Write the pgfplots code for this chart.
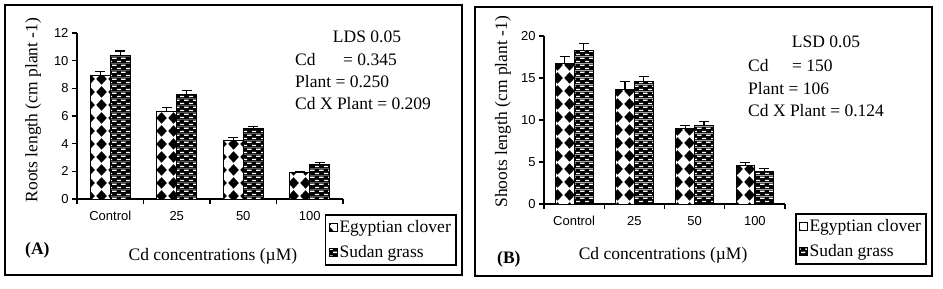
\documentclass[border=0pt]{standalone}
\usepackage{fontspec}
\setmainfont{Liberation Serif}
\newfontfamily\arialfont{Liberation Sans}
\usepackage{pgfplots}
\pgfplotsset{compat=1.18}
\usetikzlibrary{patterns}

\pgfdeclarepatterninherentlycolored{ecdiam}{\pgfqpoint{0bp}{0bp}}{\pgfqpoint{12bp}{12.5bp}}{\pgfqpoint{12bp}{12.5bp}}{%
 \pgfsetfillcolor{white}%
 \pgfpathrectangle{\pgfqpoint{0bp}{0bp}}{\pgfqpoint{12bp}{12.5bp}}%
 \pgfusepath{fill}%
 \pgfsetfillcolor{black}%
 \pgfpathmoveto{\pgfqpoint{0.3bp}{6.25bp}}%
 \pgfpathlineto{\pgfqpoint{6bp}{0.3bp}}%
 \pgfpathlineto{\pgfqpoint{11.7bp}{6.25bp}}%
 \pgfpathlineto{\pgfqpoint{6bp}{12.2bp}}%
 \pgfpathclose
 \pgfusepath{fill}%
}
\pgfdeclarepatterninherentlycolored{sgbrick}{\pgfqpoint{0bp}{0bp}}{\pgfqpoint{9bp}{7.2bp}}{\pgfqpoint{9bp}{7.2bp}}{%
 \pgfsetfillcolor{black}%
 \pgfpathrectangle{\pgfqpoint{0bp}{0bp}}{\pgfqpoint{9bp}{7.2bp}}%
 \pgfusepath{fill}%
 \pgfsetfillcolor{white}%
 \pgfpathrectangle{\pgfqpoint{0bp}{0.9bp}}{\pgfqpoint{4.5bp}{1.5bp}}%
 \pgfpathrectangle{\pgfqpoint{4.5bp}{4.5bp}}{\pgfqpoint{4.5bp}{1.5bp}}%
 \pgfusepath{fill}%
}

\newcommand\fs{\fontsize{17.5bp}{20bp}\selectfont}
\newcommand\tfs{\arialfont\fontsize{13bp}{13bp}\selectfont}

\pgfplotsset{
 panel/.style={
  anchor=south west, scale only axis,
  xmin=-0.5, xmax=3.5, ymin=0,
  axis lines*=left,
  axis line style={line width=1.2bp, -},
  ybar, bar width=0.3,
  xtick={0,1,2,3}, xticklabels={Control,25,50,100},
  minor xtick={-0.5,0.5,1.5,2.5,3.5},
  tick align=outside, major tick length=5bp, minor tick length=5bp,
  tick style={line width=1.2bp, black},
  major x tick style={draw=none},
  ticklabel style={font=\tfs},
  /pgf/number format/assume math mode=true,
  xticklabel style={yshift=-4bp},
  label style={font=\fs},
  legend style={draw=black, line width=1.5bp, font=\fs, anchor=north west,
    inner xsep=3bp, inner ysep=4bp, row sep=7bp, cells={anchor=west}},
  legend cell align=left,
 },
 errs/.style={
   error bars/y dir=plus, error bars/y explicit,
   error bars/error bar style={line width=1.2bp, black, solid},
   error bars/error mark options={rotate=90, mark size=5bp, line width=1.2bp, black, solid}},
 ecbar/.style={draw=black, line width=0.8bp, pattern=ecdiam, bar shift=-0.15,
   legend image code/.code={\draw[line width=0.8bp, pattern=ecdiam] (0bp,-4bp) rectangle (8bp,4bp);},
   errs},
 sgbar/.style={draw=black, line width=0.8bp, pattern=sgbrick, bar shift=0.15,
   legend image code/.code={\draw[line width=0.8bp, pattern=sgbrick] (0bp,-4bp) rectangle (8bp,4bp);},
   errs},
}

\begin{document}
\begin{tikzpicture}
\useasboundingbox (0,0) rectangle (943bp,289bp);
\fill[white] (0,0) rectangle (943bp,289bp);
\draw[line width=2bp] (5bp,14bp) rectangle (462bp,284bp);
\draw[line width=2bp] (475bp,13bp) rectangle (932bp,282bp);

% Panel A
\begin{axis}[panel,
 at={(77bp,90bp)}, width=266bp, height=166bp,
 ymax=12, ytick={0,2,...,12},
 xlabel={Cd concentrations (µM)},
 xlabel style={at={(axis description cs:0.511,-0.343)}, anchor=center},
 ylabel={Roots length (cm plant -1)},
 ylabel style={at={(axis description cs:-0.165,0.536)}, anchor=center},
 legend style={at={(axis description cs:0.9323,-0.0904)}},
]
\addplot[ecbar]
 coordinates {(0,8.9) +- (0,0.3) (1,6.3) +- (0,0.3) (2,4.25) +- (0,0.2) (3,1.9) +- (0,0.05)};
\addlegendentry{Egyptian clover}
\addplot[sgbar]
 coordinates {(0,10.35) +- (0,0.35) (1,7.55) +- (0,0.3) (2,5.1) +- (0,0.15) (3,2.5) +- (0,0.12)};
\addlegendentry{Sudan grass}
\end{axis}

% Panel B
\begin{axis}[panel,
 at={(544bp,85bp)}, width=241bp, height=168bp,
 ymax=20, ytick={0,5,...,20}, bar width=0.31,
 xlabel={Cd concentrations (µM)},
 xlabel style={at={(axis description cs:0.494,-0.304)}, anchor=center},
 ylabel={Shoots length (cm plant -1)},
 ylabel style={at={(axis description cs:-0.17,0.548)}, anchor=center},
 legend style={at={(axis description cs:1.0415,-0.0536)}},
]
\addplot[ecbar, bar shift=-0.157]
 coordinates {(0,16.75) +- (0,0.78) (1,13.65) +- (0,0.9) (2,9.0) +- (0,0.3) (3,4.6) +- (0,0.35)};
\addlegendentry{Egyptian clover}
\addplot[sgbar, bar shift=0.157]
 coordinates {(0,18.3) +- (0,0.8) (1,14.6) +- (0,0.6) (2,9.3) +- (0,0.5) (3,3.85) +- (0,0.4)};
\addlegendentry{Sudan grass}
\end{axis}

% LSD annotations
\begin{scope}[every node/.style={font=\fs, inner sep=0pt}]
\node[anchor=base] at (367bp,246bp) {LDS 0.05};
\node[anchor=base west] at (295bp,223bp) {Cd};
\node[anchor=base west] at (343bp,223bp) {= 0.345};
\node[anchor=base west] at (295bp,201bp) {Plant = 0.250};
\node[anchor=base west] at (295bp,179bp) {Cd X Plant = 0.209};
\node[anchor=base west, font=\fs\bfseries] at (25bp,35bp) {(A)};

\node[anchor=base] at (826bp,241bp) {LSD 0.05};
\node[anchor=base west] at (748bp,217bp) {Cd};
\node[anchor=base west] at (792bp,217bp) {= 150};
\node[anchor=base west] at (748bp,194bp) {Plant = 106};
\node[anchor=base west] at (748bp,172bp) {Cd X Plant = 0.124};
\node[anchor=base west, font=\fs\bfseries] at (497bp,26bp) {(B)};
\end{scope}
\end{tikzpicture}
\end{document}
